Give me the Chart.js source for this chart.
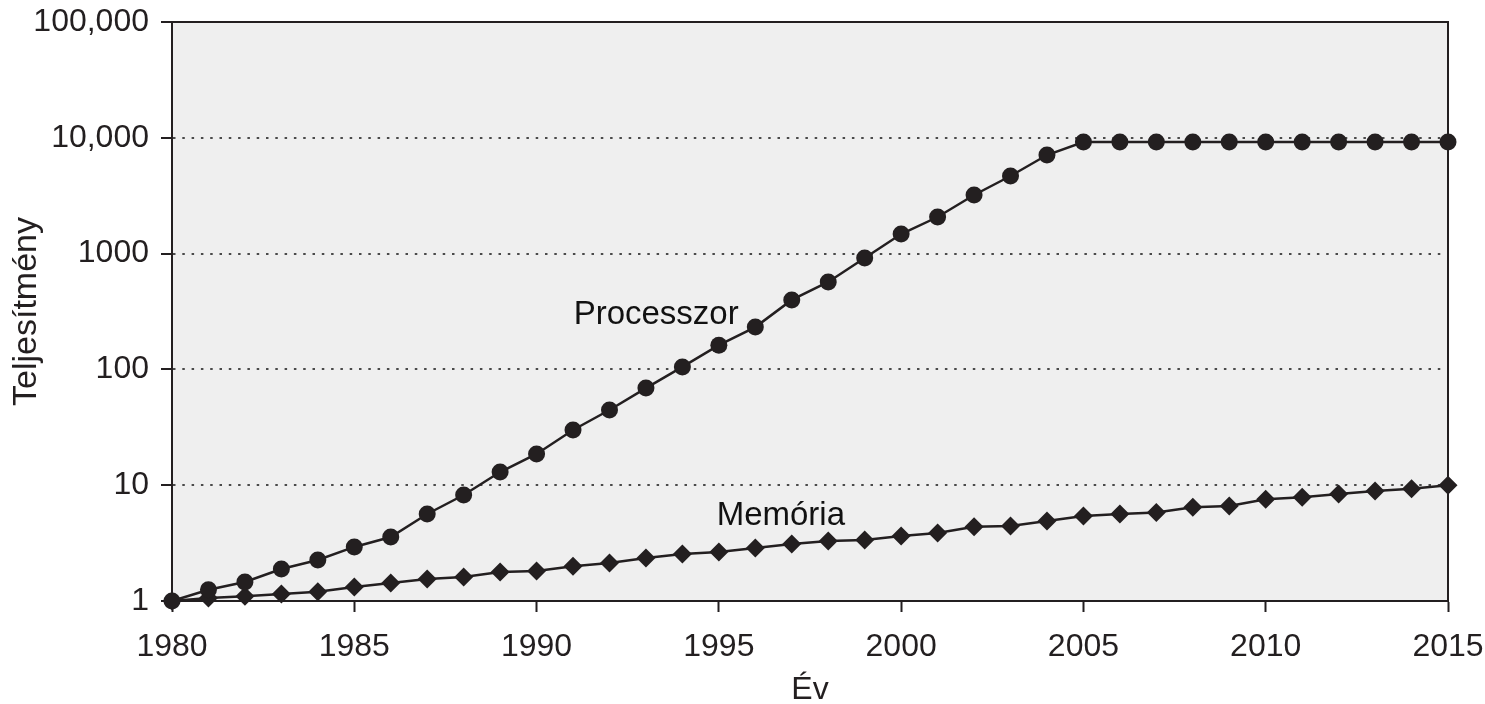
<!DOCTYPE html>
<html>
<head>
<meta charset="utf-8">
<title>Teljesítmény</title>
<script src="https://cdn.jsdelivr.net/npm/chart.js@4/dist/chart.umd.min.js"></script>
<style>
  html, body { margin: 0; padding: 0; background: #ffffff; }
  #wrap { width: 1485px; height: 704px; }
</style>
</head>
<body>
<div id="wrap"><canvas id="c" width="1485" height="704"></canvas></div>
<script>
// Years on the horizontal axis
const years = [1980, 1981, 1982, 1983, 1984, 1985, 1986, 1987, 1988, 1989,
               1990, 1991, 1992, 1993, 1994, 1995, 1996, 1997, 1998, 1999,
               2000, 2001, 2002, 2003, 2004, 2005, 2006, 2007, 2008, 2009,
               2010, 2011, 2012, 2013, 2014, 2015];

// Relative processor performance (1980 = 1)
const processorValues = [1, 1.25, 1.46, 1.89, 2.26, 2.93, 3.57, 5.64, 8.23, 13.0,
                         18.6, 30, 44.6, 69, 105, 162, 232, 398, 569, 916,
                         1476, 2070, 3206, 4677, 7100, 9200, 9200, 9200, 9200, 9200,
                         9200, 9200, 9200, 9200, 9200, 9200];

// Relative memory performance (1980 = 1)
const memoryValues = [1, 1.06, 1.1, 1.15, 1.2, 1.32, 1.43, 1.55, 1.61, 1.78,
                      1.82, 2.0, 2.13, 2.35, 2.55, 2.65, 2.87, 3.1, 3.3, 3.36,
                      3.64, 3.86, 4.38, 4.44, 4.91, 5.42, 5.64, 5.8, 6.45, 6.6,
                      7.55, 7.86, 8.4, 8.9, 9.3, 10];

// Axis ticks
const xTickValues = [1980, 1985, 1990, 1995, 2000, 2005, 2010, 2015];
const yTickValues = [1, 10, 100, 1000, 10000, 100000];
const yTickLabels = ['1', '10', '100', '1000', '10,000', '100,000'];

// In-plot series names and where they sit (year, value at text baseline)
const seriesNames = ['Processzor', 'Memória'];
const seriesNameYears = [1993.28, 1996.7];
const seriesNameValues = [246, 4.53];

const INK = '#231f20';
const FONT = "'Liberation Sans', Arial, Helvetica, sans-serif";

const toPoints = (vals) => years.map((y, i) => ({ x: y, y: vals[i] }));

// Grey plot background plus a full frame around the plot
const plotFrame = {
  id: 'plotFrame',
  beforeDraw(chart) {
    const a = chart.chartArea, ctx = chart.ctx;
    ctx.save();
    ctx.fillStyle = '#efefef';
    ctx.fillRect(a.left, a.top, a.right - a.left, a.bottom - a.top);
    ctx.restore();
  },
  beforeDatasetsDraw(chart) {
    const a = chart.chartArea, ctx = chart.ctx;
    ctx.save();
    ctx.strokeStyle = INK;
    ctx.lineWidth = 2;
    ctx.strokeRect(a.left, a.top, a.right - a.left, a.bottom - a.top);
    ctx.restore();
  }
};

// Series names written next to their lines
const seriesNameLabels = {
  id: 'seriesNameLabels',
  afterDatasetsDraw(chart) {
    const ctx = chart.ctx, xs = chart.scales.x, ys = chart.scales.y;
    ctx.save();
    ctx.fillStyle = '#111111';
    ctx.font = '33px ' + FONT;
    ctx.textAlign = 'center';
    ctx.textBaseline = 'alphabetic';
    seriesNames.forEach((name, i) => {
      ctx.fillText(name, xs.getPixelForValue(seriesNameYears[i]), ys.getPixelForValue(seriesNameValues[i]));
    });
    ctx.restore();
  }
};

new Chart(document.getElementById('c'), {
  type: 'line',
  data: {
    datasets: [
      {
        label: seriesNames[0],
        data: toPoints(processorValues),
        borderColor: INK,
        borderWidth: 2.5,
        pointStyle: 'circle',
        pointRadius: 8.5,
        pointBackgroundColor: INK,
        pointBorderColor: INK,
        pointBorderWidth: 0,
        tension: 0,
        clip: false
      },
      {
        label: seriesNames[1],
        data: toPoints(memoryValues),
        borderColor: INK,
        borderWidth: 2.5,
        pointStyle: 'rectRot',
        pointRadius: 9.5,
        pointBackgroundColor: INK,
        pointBorderColor: INK,
        pointBorderWidth: 0,
        tension: 0,
        clip: false
      }
    ]
  },
  options: {
    responsive: false,
    animation: false,
    devicePixelRatio: 1,
    layout: { padding: { left: 0, top: 22, right: 37, bottom: 0 } },
    plugins: {
      legend: { display: false },
      tooltip: { enabled: false },
      title: { display: false }
    },
    scales: {
      x: {
        type: 'linear',
        min: 1980,
        max: 2015,
        afterBuildTicks: (scale) => { scale.ticks = xTickValues.map(v => ({ value: v })); },
        afterFit: (scale) => {
          scale.height = 103;
          scale.paddingLeft = 0;
          scale.paddingRight = 0;
        },
        ticks: {
          color: INK,
          font: { family: FONT, size: 32 },
          padding: 16,
          maxRotation: 0,
          autoSkip: false,
          callback: (v) => String(v)
        },
        grid: {
          drawOnChartArea: false,
          drawTicks: true,
          tickLength: 11,
          tickWidth: 2,
          tickColor: INK,
          tickBorderDash: []
        },
        border: { display: true, color: INK, width: 2 },
        title: {
          display: true,
          text: 'Év',
          color: INK,
          font: { family: FONT, size: 32, lineHeight: 1 },
          padding: { top: 0, bottom: -2 }
        }
      },
      y: {
        type: 'logarithmic',
        min: 1,
        max: 100000,
        afterBuildTicks: (scale) => { scale.ticks = yTickValues.map(v => ({ value: v })); },
        afterFit: (scale) => {
          scale.width = 172;
          scale.paddingTop = 0;
          scale.paddingBottom = 0;
        },
        ticks: {
          color: INK,
          font: { family: FONT, size: 32 },
          padding: 12,
          autoSkip: false,
          callback: (v, i) => yTickLabels[i]
        },
        grid: {
          drawOnChartArea: true,
          color: '#4a4a4a',
          lineWidth: 2,
          drawTicks: true,
          tickLength: 11,
          tickWidth: 2,
          tickColor: INK,
          tickBorderDash: []
        },
        border: { display: true, color: INK, width: 2, dash: [2.5, 6.8] },
        title: {
          display: true,
          text: 'Teljesítmény',
          color: INK,
          font: { family: FONT, size: 34, lineHeight: 1 },
          padding: { top: 10, bottom: 0 }
        }
      }
    }
  },
  plugins: [plotFrame, seriesNameLabels]
});
</script>
</body>
</html>
